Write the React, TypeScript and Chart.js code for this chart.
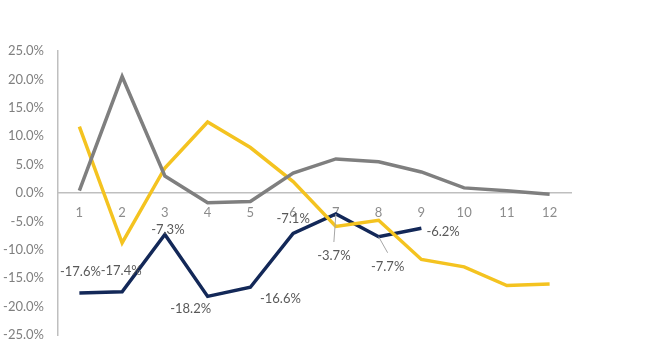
import React, { useEffect, useRef } from "react";
import { Chart, registerables } from "chart.js";

Chart.register(...registerables);

const categories = ["1", "2", "3", "4", "5", "6", "7", "8", "9", "10", "11", "12"];
const graySeries = [0.4, 20.5, 3.0, -1.7, -1.5, 3.5, 6.0, 5.5, 3.7, 0.9, 0.4, -0.2];
const yellowSeries = [11.7, -8.8, 4.4, 12.5, 8.0, 2.0, -5.9, -4.8, -11.7, -13.0, -16.3, -16.0];
const navySeries = [-17.6, -17.4, -7.3, -18.2, -16.6, -7.1, -3.7, -7.7, -6.2, null, null, null];
const navyLabels = ["-17.6%", "-17.4%", "-7.3%", "-18.2%", "-16.6%", "-7.1%", "-3.7%", "-7.7%", "-6.2%"];
// label offsets (dx, dy, align) relative to points, and leader flags
const labelOffsets: [number, number, CanvasTextAlign, boolean][] = [
  [1, -21, "center", false],
  [-1, -21, "center", false],
  [3, -5, "center", false],
  [-17, 12, "center", false],
  [30, 12, "center", false],
  [0, -15, "center", false],
  [-2, 42, "center", true],
  [9, 30, "center", true],
  [5, 4, "left", false],
];

const FONT = "Lato, 'Open Sans', sans-serif";

export default function App() {
  const ref = useRef<HTMLCanvasElement | null>(null);
  useEffect(() => {
    document.body.style.margin = "0";
    const canvas = ref.current!;
    const labelPlugin = {
      id: "navyLabels",
      afterDatasetsDraw(chart: any) {
        const meta = chart.getDatasetMeta(2);
        const ctx = chart.ctx;
        ctx.save();
        ctx.font = "13px " + FONT;
        ctx.fillStyle = "#595959";
        ctx.textBaseline = "middle";
        navyLabels.forEach((txt, i) => {
          const pt = meta.data[i];
          if (!pt) return;
          const [dx, dy, align, leader] = labelOffsets[i];
          const x = pt.x + dx;
          const y = pt.y + dy;
          if (leader) {
            ctx.strokeStyle = "#a6a6a6";
            ctx.lineWidth = 1;
            ctx.beginPath();
            ctx.moveTo(pt.x, pt.y);
            ctx.lineTo(pt.x + dx * 1.0, y - 14);
            ctx.stroke();
          }
          ctx.textAlign = align;
          ctx.fillText(txt, x, y);
        });
        ctx.restore();
      },
    };
    const chart = new Chart(canvas, {
      type: "line",
      data: {
        labels: categories,
        datasets: [
          { data: graySeries, borderColor: "#7f7f7f", borderWidth: 3.5, pointRadius: 0, tension: 0 },
          { data: yellowSeries, borderColor: "#F4C320", borderWidth: 3.5, pointRadius: 0, tension: 0 },
          { data: navySeries, borderColor: "#132858", borderWidth: 3.5, pointRadius: 0, tension: 0, spanGaps: false },
        ],
      },
      options: {
        responsive: false,
        animation: false,
        layout: { padding: { top: 51, left: 0, right: 88, bottom: 16 } },
        plugins: { legend: { display: false }, tooltip: { enabled: false } },
        scales: {
          x: {
            position: { y: 0 } as any,
            offset: true,
            grid: { display: false, drawTicks: false },
            border: { display: true, color: "#bfbfbf", width: 1.5 },
            ticks: { color: "#8c8c8c", font: { size: 13, family: FONT }, padding: 12 },
            afterFit: (s: any) => { s.height = 0; },
          },
          y: {
            min: -25,
            max: 25,
            grid: {
              display: true,
              drawOnChartArea: false,
              drawTicks: true,
              tickLength: 14,
              tickColor: "rgba(0,0,0,0)",
            },
            border: { display: true, color: "#bfbfbf", width: 1.5 },
            ticks: {
              stepSize: 5,
              color: "#7f7f7f",
              font: { size: 13, family: FONT },
              padding: 0,
              callback: (v: any) => Number(v).toFixed(1) + "%",
            },
            afterFit: (s: any) => { s.width = 58; },
          },
        },
      },
      plugins: [labelPlugin],
    });
    return () => chart.destroy();
  }, []);
  return (
    <div style={{ width: 659, height: 351, background: "#fff" }}>
      <canvas ref={ref} width={659} height={351} />
    </div>
  );
}
